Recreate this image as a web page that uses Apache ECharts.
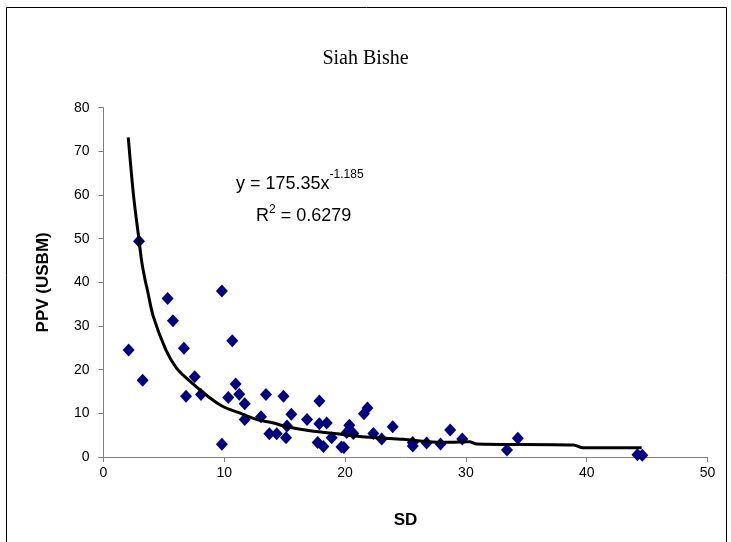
<!DOCTYPE html>
<html><head><meta charset="utf-8">
<script src="https://cdn.jsdelivr.net/npm/echarts@6/dist/echarts.min.js"></script>
<style>html,body{margin:0;padding:0;background:#fff}#c{width:731px;height:542px}</style>
</head><body><div id="c"></div>
<script>
const sdValues = [2.08,2.94,3.24,5.31,5.75,6.66,6.83,7.55,8.07,9.8,9.8,10.33,10.66,10.94,11.24,11.69,11.69,13.04,13.45,13.73,14.34,14.9,15.11,15.19,15.55,16.85,17.87,17.87,17.73,18.2,18.48,18.89,19.7,19.9,20.35,20.13,20.68,21.56,21.85,22.34,23.03,23.94,25.6,25.6,26.75,27.9,28.7,29.7,33.4,34.3,44.2,44.6];
const ppvValues = [24.5,49.4,17.6,36.3,31.2,24.9,13.9,18.4,14.3,38.0,2.9,13.6,26.6,16.7,14.4,12.2,8.6,9.2,14.3,5.3,5.3,13.9,4.4,7.1,9.8,8.6,12.8,7.6,3.3,2.4,7.8,4.4,2.3,2.2,7.3,5.6,5.4,9.9,11.2,5.4,4.1,6.9,2.5,3.3,3.2,3.0,6.2,4.1,1.6,4.3,0.5,0.4];
const trendX = [2.05,2.5,2.96,3.16,3.44,3.63,4.12,5.17,6.06,6.89,8.82,9.92,11.16,12.8,13.9,15.4,17.1,19.3,22.06,24.8,27.6,28.7,30.3,30.9,38.9,39.7,44.55];
const trendY = [73.2,59.5,49.3,44.8,40.6,38.3,32.2,24.5,20.3,18.0,13.5,11.5,10.2,8.5,7.9,6.8,6.0,5.3,4.5,4.05,3.4,3.4,3.5,3.0,2.75,2.1,2.1];
const xTicks = [0,10,20,30,40,50];
const yTicks = [0,10,20,30,40,50,60,70,80];
const titleText = 'Siah Bishe';
const eqText = {coef:'175.35', exp:'-1.185', r2:'0.6279'};

const chart = echarts.init(document.getElementById('c'), null, {renderer:'canvas'});
const axisCommon = {
  axisLine:{show:true, lineStyle:{color:'#808080', width:1}},
  axisTick:{show:true, inside:false, length:5, lineStyle:{color:'#808080'}},
  splitLine:{show:false},
  axisLabel:{color:'#000', fontFamily:'Liberation Sans, Arial, sans-serif', fontSize:14}
};
chart.setOption({
  animation:false,
  backgroundColor:'#fff',
  title:{text:titleText, left:'center', top:44, textStyle:{fontFamily:'Liberation Serif, Times New Roman, serif', fontWeight:'normal', fontSize:20, color:'#000'}},
  grid:{left:103.5, right:23.5, top:107.7, bottom:85, containLabel:false},
  xAxis:Object.assign({}, axisCommon, {type:'value', min:0, max:50, interval:10,
    name:'SD', nameLocation:'middle', nameGap:55,
    nameTextStyle:{fontFamily:'Liberation Sans, Arial, sans-serif', fontWeight:'bold', fontSize:17, color:'#000'},
    axisLabel:Object.assign({}, axisCommon.axisLabel, {margin:9})}),
  yAxis:Object.assign({}, axisCommon, {type:'value', min:0, max:80, interval:10,
    name:'PPV (USBM)', nameLocation:'middle', nameGap:52, nameRotate:90,
    nameTextStyle:{fontFamily:'Liberation Sans, Arial, sans-serif', fontWeight:'bold', fontSize:17, color:'#000'},
    axisLabel:Object.assign({}, axisCommon.axisLabel, {margin:14})}),
  graphic:[
    {type:'rect', shape:{x:6.5, y:7.5, width:720, height:560}, style:{fill:'none', stroke:'#000', lineWidth:1}, silent:true, z:-1},
    {type:'text', left:236, top:169, style:{
      text:'{b|y = '+eqText.coef+'x}{s|'+eqText.exp+'}',
      rich:{b:{fontFamily:'Liberation Sans, Arial, sans-serif', fontSize:18, fill:'#000', verticalAlign:'bottom', lineHeight:24},
            s:{fontFamily:'Liberation Sans, Arial, sans-serif', fontSize:12, fill:'#000', verticalAlign:'top', lineHeight:24, padding:[0,0,12,0]}}}},
    {type:'text', left:256, top:204, style:{
      text:'{b|R}{s|2}{b| = '+eqText.r2+'}',
      rich:{b:{fontFamily:'Liberation Sans, Arial, sans-serif', fontSize:18, fill:'#000', lineHeight:24},
            s:{fontFamily:'Liberation Sans, Arial, sans-serif', fontSize:12, fill:'#000', lineHeight:24, padding:[0,0,12,0]}}}}
  ],
  series:[
    {type:'scatter', data:sdValues.map((x,i)=>[x,ppvValues[i]]), symbol:'diamond', symbolSize:[12,13],
      itemStyle:{color:'#000080', opacity:1}, z:3},
    {type:'line', data:trendX.map((x,i)=>[x,trendY[i]]), showSymbol:false, smooth:0.3,
      lineStyle:{color:'#000', width:3}, z:4}
  ]
});
</script></body></html>
